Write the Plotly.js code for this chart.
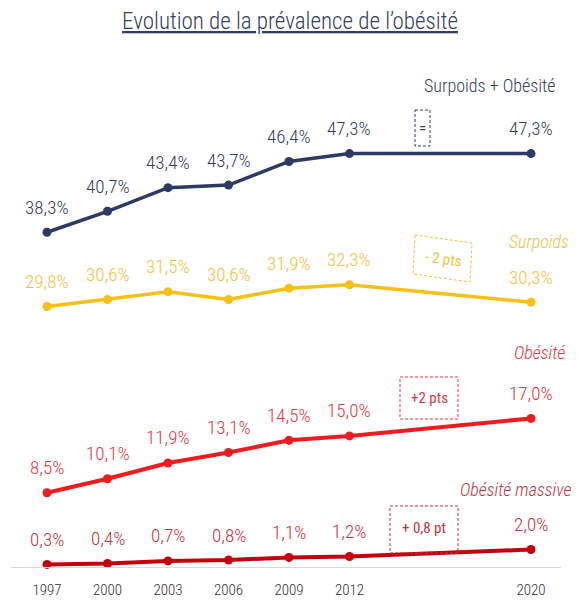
<!DOCTYPE html>
<html><head><meta charset="utf-8">
<script src="https://cdn.plot.ly/plotly-3.0.1.min.js"></script>
<style>html,body{margin:0;padding:0;background:#fff}#c{width:579px;height:603px}</style>
</head><body><div id="c"></div>
<script>
const years = ["1997","2000","2003","2006","2009","2012","2020"];
const xIdx = [0,1,2,3,4,5,8];
const surpoidsObesite = [38.3,40.7,43.4,43.7,46.4,47.3,47.3];
const surpoids = [29.8,30.6,31.5,30.6,31.9,32.3,30.3];
const obesite = [8.5,10.1,11.9,13.1,14.5,15.0,17.0];
const obesiteMassive = [0.3,0.4,0.7,0.8,1.1,1.2,2.0];

const FONT = "Roboto Condensed, Liberation Sans Narrow, Arial Narrow, sans-serif";
const WT = 300;
const series = [
  {name:"Surpoids + Obésité", y:surpoidsObesite, line:"#2e3a62", label:"#33405f", w:3.5},
  {name:"Surpoids", y:surpoids, line:"#f5c116", label:"#f0c244", w:3.5},
  {name:"Obésité", y:obesite, line:"#ee1c1f", label:"#dc3a43", w:4},
  {name:"Obésité massive", y:obesiteMassive, line:"#c3000c", label:"#c0343d", w:4}
];
const fmt = v => v.toFixed(1).replace(".", ",") + "%";

const traces = series.map(s => ({
  type:"scatter", mode:"lines+markers", x:xIdx, y:s.y, name:s.name,
  line:{color:s.line, width:s.w}, marker:{color:s.line, size:9},
  hoverinfo:"skip", cliponaxis:false
}));

const annotations = [];
series.forEach(s => {
  s.y.forEach((v,i) => annotations.push({
    x:xIdx[i], y:v, xref:"x", yref:"y", text:fmt(v), showarrow:false,
    yshift:25, font:{family:FONT, size:19, weight:WT, color:s.label}
  }));
});
const W = 550, H = 437, L = 11, B = 567;
const px = x => (x - L)/W, py = y => (B - y)/H;
const names = [
  {t:"Surpoids + Obésité", x:558, y:85, c:"#33405f", it:false},
  {t:"Surpoids", x:571, y:241, c:"#f0c244", it:true},
  {t:"Obésité", x:567, y:352, c:"#dc3a43", it:true},
  {t:"Obésité massive", x:574, y:489, c:"#c0343d", it:true}
];
names.forEach(n => annotations.push({
  xref:"paper", yref:"paper", x:px(n.x), y:py(n.y), xanchor:"right", yanchor:"middle",
  text: n.it ? "<i>"+n.t+"</i>" : n.t, showarrow:false,
  font:{family:FONT, size:18, weight:WT, color:n.c}
}));
const boxTexts = [
  {t:"=", x:422, y:128, c:"#33405f", a:0},
  {t:"- 2 pts", x:443, y:259, c:"#f0c244", a:8},
  {t:"+2 pts", x:429, y:398, c:"#dc3a43", a:0},
  {t:"+ 0,8 pt", x:424, y:528, c:"#c0343d", a:0}
];
boxTexts.forEach(b => annotations.push({
  xref:"paper", yref:"paper", x:px(b.x), y:py(b.y), xanchor:"center", yanchor:"middle",
  text:b.t, showarrow:false, textangle:b.a, font:{family:FONT, size:15, weight:400, color:b.c}
}));
annotations.push({
  xref:"paper", yref:"paper", x:px(290), y:py(22), xanchor:"center", yanchor:"middle",
  text:"<u>Evolution de la prévalence de l’obésité</u>", showarrow:false,
  font:{family:FONT, size:23, weight:WT, color:"#33405f"}
});

const DASH = "3px,2px";
const rect = (x0,y0,x1,y1,c) => ({type:"rect", xref:"paper", yref:"paper",
  x0:px(x0), x1:px(x1), y0:py(y0), y1:py(y1), line:{color:c, width:1, dash:DASH}});
const poly = (pts,c) => ({type:"path", xref:"paper", yref:"paper",
  path: "M" + pts.map(p => px(p[0]) + "," + py(p[1])).join(" L") + " Z",
  line:{color:c, width:1, dash:DASH}});
const shapes = [
  rect(415,110,430,146,"#33405f"),
  poly([[415,235],[472,243],[470,282],[413,274]],"#f0c244"),
  rect(400,377,458,419,"#dc3a43"),
  rect(390,506,458,553,"#c0343d")
];

const layout = {
  width:579, height:603, margin:{l:L, r:18, t:130, b:36},
  paper_bgcolor:"#fff", plot_bgcolor:"#fff", showlegend:false,
  xaxis:{range:[-0.595,8.496], tickvals:xIdx, ticktext:years, showgrid:false, zeroline:false,
    showline:true, linecolor:"#d9d9d9", linewidth:1, ticks:"outside", ticklen:9,
    tickcolor:"rgba(0,0,0,0)", tickfont:{family:FONT, size:15, weight:WT, color:"#303030"}, fixedrange:true},
  yaxis:{range:[0,50], visible:false, showgrid:false, zeroline:false, fixedrange:true},
  annotations:annotations, shapes:shapes
};
Plotly.newPlot("c", traces, layout, {displayModeBar:false, staticPlot:true});
</script></body></html>
